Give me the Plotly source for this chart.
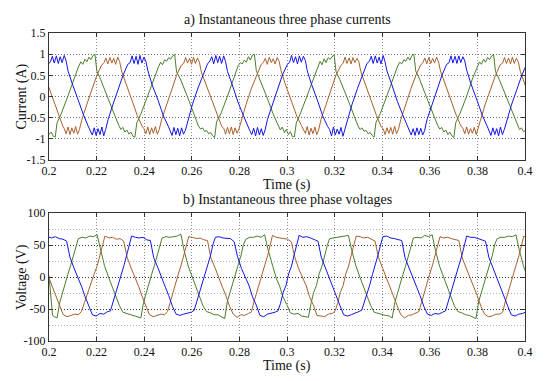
import plotly.graph_objects as go

# ---------------- currents (A) ----------------
I_BLUE_T = [
    0.1976, 0.1996,
    0.2006, 0.2014, 0.2022, 0.2031, 0.2039, 0.2047, 0.2055, 0.2064, 0.2072, 0.2080, 0.2098, 0.2124, 0.2146, 0.2166, 0.2174, 0.2182, 0.2190, 0.2198, 0.2206, 0.2214, 0.2222, 0.2230, 0.2238, 0.2248, 0.2268, 0.2291, 0.2311, 0.2331,
    0.2341, 0.2349, 0.2357, 0.2366, 0.2374, 0.2382, 0.2390, 0.2399, 0.2407, 0.2415, 0.2433, 0.2459, 0.2481, 0.2501, 0.2509, 0.2517, 0.2525, 0.2533, 0.2541, 0.2549, 0.2557, 0.2565, 0.2573, 0.2583, 0.2603, 0.2626, 0.2646, 0.2666,
    0.2676, 0.2684, 0.2692, 0.2701, 0.2709, 0.2717, 0.2725, 0.2734, 0.2742, 0.2750, 0.2768, 0.2794, 0.2816, 0.2836, 0.2844, 0.2852, 0.2860, 0.2868, 0.2876, 0.2884, 0.2892, 0.2900, 0.2908, 0.2918, 0.2938, 0.2961, 0.2981, 0.3001,
    0.3011, 0.3019, 0.3027, 0.3036, 0.3044, 0.3052, 0.3060, 0.3069, 0.3077, 0.3085, 0.3103, 0.3129, 0.3151, 0.3171, 0.3179, 0.3187, 0.3195, 0.3203, 0.3211, 0.3219, 0.3227, 0.3235, 0.3243, 0.3253, 0.3273, 0.3296, 0.3316, 0.3336,
    0.3346, 0.3354, 0.3362, 0.3371, 0.3379, 0.3387, 0.3395, 0.3404, 0.3412, 0.3420, 0.3438, 0.3464, 0.3486, 0.3506, 0.3514, 0.3522, 0.3530, 0.3538, 0.3546, 0.3554, 0.3562, 0.3570, 0.3578, 0.3588, 0.3608, 0.3631, 0.3651, 0.3671,
    0.3681, 0.3689, 0.3697, 0.3706, 0.3714, 0.3722, 0.3730, 0.3739, 0.3747, 0.3755, 0.3773, 0.3799, 0.3821, 0.3841, 0.3849, 0.3857, 0.3865, 0.3873, 0.3881, 0.3889, 0.3897, 0.3905, 0.3913, 0.3923, 0.3943, 0.3966, 0.3986, 0.4006,
]
I_BLUE = [
    0.50, 0.76,
    0.82, 0.95, 0.79, 0.96, 0.78, 0.94, 0.80, 0.97, 0.84, 0.60, 0.30, -0.12, -0.45, -0.72, -0.80, -0.91, -0.74, -0.92, -0.76, -0.90, -0.72, -0.93, -0.78, -0.55, -0.20, 0.18, 0.50, 0.76,
    0.80, 0.96, 0.78, 0.95, 0.76, 0.97, 0.79, 0.93, 0.83, 0.62, 0.28, -0.10, -0.46, -0.70, -0.79, -0.92, -0.73, -0.90, -0.75, -0.93, -0.74, -0.89, -0.80, -0.57, -0.18, 0.20, 0.48, 0.77,
    0.84, 0.94, 0.77, 0.97, 0.80, 0.95, 0.78, 0.96, 0.82, 0.59, 0.31, -0.13, -0.44, -0.73, -0.81, -0.90, -0.75, -0.93, -0.73, -0.91, -0.76, -0.92, -0.79, -0.54, -0.21, 0.17, 0.51, 0.75,
    0.81, 0.97, 0.80, 0.94, 0.77, 0.96, 0.81, 0.95, 0.85, 0.61, 0.29, -0.11, -0.47, -0.71, -0.78, -0.93, -0.72, -0.91, -0.77, -0.89, -0.73, -0.94, -0.77, -0.56, -0.19, 0.19, 0.49, 0.78,
    0.83, 0.95, 0.78, 0.96, 0.79, 0.93, 0.77, 0.97, 0.82, 0.60, 0.32, -0.12, -0.43, -0.72, -0.80, -0.91, -0.76, -0.92, -0.74, -0.90, -0.75, -0.91, -0.81, -0.55, -0.22, 0.18, 0.50, 0.76,
    0.80, 0.96, 0.79, 0.95, 0.78, 0.96, 0.80, 0.94, 0.84, 0.62, 0.30, -0.10, -0.45, -0.70, -0.79, -0.92, -0.74, -0.90, -0.76, -0.93, -0.72, -0.90, -0.78, -0.57, -0.20, 0.17, 0.49, 0.75,
]

I_BROWN_T = [
    0.1994, 0.2020, 0.2040, 0.2058, 0.2064, 0.2072, 0.2080, 0.2088, 0.2096, 0.2104, 0.2112, 0.2120, 0.2128, 0.2138, 0.2158, 0.2181, 0.2201, 0.2221,
    0.2231, 0.2239, 0.2247, 0.2256, 0.2264, 0.2272, 0.2280, 0.2289, 0.2297, 0.2305, 0.2323, 0.2349, 0.2371, 0.2391, 0.2399, 0.2407, 0.2415, 0.2423, 0.2431, 0.2439, 0.2447, 0.2455, 0.2463, 0.2473, 0.2493, 0.2516, 0.2536, 0.2556,
    0.2566, 0.2574, 0.2582, 0.2591, 0.2599, 0.2607, 0.2615, 0.2624, 0.2632, 0.2640, 0.2658, 0.2684, 0.2706, 0.2726, 0.2734, 0.2742, 0.2750, 0.2758, 0.2766, 0.2774, 0.2782, 0.2790, 0.2798, 0.2808, 0.2828, 0.2851, 0.2871, 0.2891,
    0.2901, 0.2909, 0.2917, 0.2926, 0.2934, 0.2942, 0.2950, 0.2959, 0.2967, 0.2975, 0.2993, 0.3019, 0.3041, 0.3061, 0.3069, 0.3077, 0.3085, 0.3093, 0.3101, 0.3109, 0.3117, 0.3125, 0.3133, 0.3143, 0.3163, 0.3186, 0.3206, 0.3226,
    0.3236, 0.3244, 0.3252, 0.3261, 0.3269, 0.3277, 0.3285, 0.3294, 0.3302, 0.3310, 0.3328, 0.3354, 0.3376, 0.3396, 0.3404, 0.3412, 0.3420, 0.3428, 0.3436, 0.3444, 0.3452, 0.3460, 0.3468, 0.3478, 0.3498, 0.3521, 0.3541, 0.3561,
    0.3571, 0.3579, 0.3587, 0.3596, 0.3604, 0.3612, 0.3620, 0.3629, 0.3637, 0.3645, 0.3663, 0.3689, 0.3711, 0.3731, 0.3739, 0.3747, 0.3755, 0.3763, 0.3771, 0.3779, 0.3787, 0.3795, 0.3803, 0.3813, 0.3833, 0.3856, 0.3876, 0.3896,
    0.3906, 0.3914, 0.3922, 0.3931, 0.3939, 0.3947, 0.3955, 0.3964, 0.3972, 0.3980, 0.3998, 0.4024,
]
I_BROWN = [
    0.30, -0.12, -0.45, -0.70, -0.76, -0.88, -0.72, -0.90, -0.74, -0.87, -0.71, -0.89, -0.78, -0.55, -0.20, 0.18, 0.50, 0.74,
    0.80, 0.91, 0.77, 0.92, 0.79, 0.90, 0.76, 0.93, 0.82, 0.60, 0.30, -0.12, -0.45, -0.70, -0.76, -0.88, -0.72, -0.90, -0.74, -0.87, -0.71, -0.89, -0.78, -0.55, -0.20, 0.18, 0.50, 0.74,
    0.78, 0.92, 0.79, 0.90, 0.76, 0.93, 0.78, 0.91, 0.81, 0.58, 0.31, -0.10, -0.44, -0.71, -0.75, -0.89, -0.73, -0.88, -0.72, -0.90, -0.74, -0.87, -0.77, -0.56, -0.19, 0.20, 0.48, 0.75,
    0.81, 0.90, 0.76, 0.93, 0.80, 0.89, 0.77, 0.92, 0.83, 0.61, 0.29, -0.13, -0.46, -0.69, -0.77, -0.87, -0.71, -0.91, -0.75, -0.88, -0.72, -0.90, -0.79, -0.54, -0.21, 0.17, 0.51, 0.73,
    0.79, 0.93, 0.78, 0.91, 0.77, 0.92, 0.80, 0.90, 0.82, 0.59, 0.30, -0.11, -0.45, -0.72, -0.76, -0.90, -0.74, -0.87, -0.73, -0.89, -0.70, -0.88, -0.78, -0.55, -0.20, 0.19, 0.49, 0.74,
    0.80, 0.91, 0.77, 0.92, 0.78, 0.90, 0.79, 0.93, 0.81, 0.60, 0.32, -0.12, -0.44, -0.70, -0.75, -0.88, -0.72, -0.89, -0.76, -0.87, -0.73, -0.90, -0.77, -0.56, -0.18, 0.18, 0.50, 0.75,
    0.79, 0.92, 0.78, 0.91, 0.77, 0.93, 0.78, 0.90, 0.82, 0.60, 0.31, -0.11,
]

I_GREEN_T = [
    0.1984, 0.1992, 0.2001, 0.2009, 0.2018, 0.2026, 0.2034, 0.2052, 0.2080, 0.2105,
    0.2125, 0.2134, 0.2142, 0.2151, 0.2159, 0.2168, 0.2176, 0.2185, 0.2193, 0.2201, 0.2217, 0.2245, 0.2273, 0.2293, 0.2302, 0.2310, 0.2319, 0.2327, 0.2336, 0.2344, 0.2353, 0.2361, 0.2369, 0.2387, 0.2415, 0.2440,
    0.2460, 0.2469, 0.2477, 0.2486, 0.2494, 0.2503, 0.2511, 0.2520, 0.2528, 0.2536, 0.2552, 0.2580, 0.2608, 0.2628, 0.2637, 0.2645, 0.2654, 0.2662, 0.2671, 0.2679, 0.2688, 0.2696, 0.2704, 0.2722, 0.2750, 0.2775,
    0.2795, 0.2804, 0.2812, 0.2821, 0.2829, 0.2838, 0.2846, 0.2855, 0.2863, 0.2871, 0.2887, 0.2915, 0.2943, 0.2963, 0.2972, 0.2980, 0.2989, 0.2997, 0.3006, 0.3014, 0.3023, 0.3031, 0.3039, 0.3057, 0.3085, 0.3110,
    0.3130, 0.3139, 0.3147, 0.3156, 0.3164, 0.3173, 0.3181, 0.3190, 0.3198, 0.3206, 0.3222, 0.3250, 0.3278, 0.3298, 0.3307, 0.3315, 0.3324, 0.3332, 0.3341, 0.3349, 0.3358, 0.3366, 0.3374, 0.3392, 0.3420, 0.3445,
    0.3465, 0.3474, 0.3482, 0.3491, 0.3499, 0.3508, 0.3516, 0.3525, 0.3533, 0.3541, 0.3557, 0.3585, 0.3613, 0.3633, 0.3642, 0.3650, 0.3659, 0.3667, 0.3676, 0.3684, 0.3693, 0.3701, 0.3709, 0.3727, 0.3755, 0.3780,
    0.3800, 0.3809, 0.3817, 0.3826, 0.3834, 0.3843, 0.3851, 0.3860, 0.3868, 0.3876, 0.3892, 0.3920, 0.3948, 0.3968, 0.3977, 0.3985, 0.3994, 0.4002, 0.4011,
]
I_GREEN = [
    -0.84, -0.79, -0.89, -0.84, -0.94, -0.96, -0.62, -0.40, 0.02, 0.42,
    0.72, 0.82, 0.76, 0.88, 0.82, 0.93, 0.87, 0.97, 1.00, 0.60, 0.40, 0.00, -0.42, -0.68, -0.78, -0.73, -0.84, -0.79, -0.89, -0.84, -0.94, -0.96, -0.62, -0.40, 0.02, 0.42,
    0.70, 0.81, 0.75, 0.87, 0.83, 0.92, 0.88, 0.96, 0.99, 0.58, 0.41, 0.02, -0.40, -0.70, -0.77, -0.74, -0.83, -0.80, -0.88, -0.85, -0.93, -0.97, -0.60, -0.41, 0.01, 0.43,
    0.73, 0.80, 0.77, 0.86, 0.81, 0.94, 0.86, 0.98, 1.00, 0.61, 0.39, -0.01, -0.43, -0.67, -0.79, -0.72, -0.85, -0.78, -0.90, -0.83, -0.95, -0.95, -0.63, -0.39, 0.03, 0.41,
    0.71, 0.83, 0.75, 0.89, 0.80, 0.92, 0.88, 0.95, 0.99, 0.59, 0.40, 0.01, -0.41, -0.69, -0.78, -0.74, -0.82, -0.80, -0.88, -0.85, -0.92, -0.96, -0.61, -0.40, 0.02, 0.42,
    0.72, 0.81, 0.77, 0.87, 0.83, 0.93, 0.86, 0.97, 1.00, 0.60, 0.41, 0.00, -0.42, -0.68, -0.77, -0.73, -0.84, -0.79, -0.90, -0.84, -0.93, -0.97, -0.62, -0.40, 0.01, 0.43,
    0.70, 0.82, 0.76, 0.88, 0.81, 0.92, 0.87, 0.96, 0.99, 0.59, 0.40, 0.01, -0.41, -0.69, -0.78, -0.74, -0.83, -0.80, -0.89,
]

# ---------------- voltages (V) ----------------
V_BLUE_T = [
    0.1985,
    0.1995, 0.2011, 0.2027, 0.2043, 0.2059, 0.2074, 0.2088, 0.2105, 0.2123, 0.2137, 0.2151, 0.2167, 0.2182, 0.2198, 0.2214, 0.2230, 0.2246, 0.2258, 0.2269, 0.2280, 0.2292, 0.2303, 0.2315, 0.2327, 0.2337,
    0.2347, 0.2363, 0.2379, 0.2395, 0.2411, 0.2426, 0.2440, 0.2457, 0.2475, 0.2489, 0.2503, 0.2519, 0.2534, 0.2550, 0.2566, 0.2582, 0.2598, 0.2610, 0.2621, 0.2632, 0.2644, 0.2655, 0.2667, 0.2679, 0.2689,
    0.2699, 0.2715, 0.2731, 0.2747, 0.2763, 0.2778, 0.2792, 0.2809, 0.2827, 0.2841, 0.2855, 0.2871, 0.2886, 0.2902, 0.2918, 0.2934, 0.2950, 0.2962, 0.2973, 0.2984, 0.2996, 0.3007, 0.3019, 0.3031, 0.3041,
    0.3051, 0.3067, 0.3083, 0.3099, 0.3115, 0.3130, 0.3144, 0.3161, 0.3179, 0.3193, 0.3207, 0.3223, 0.3238, 0.3254, 0.3270, 0.3286, 0.3302, 0.3314, 0.3325, 0.3336, 0.3348, 0.3359, 0.3371, 0.3383, 0.3393,
    0.3403, 0.3419, 0.3435, 0.3451, 0.3467, 0.3482, 0.3496, 0.3513, 0.3531, 0.3545, 0.3559, 0.3575, 0.3590, 0.3606, 0.3622, 0.3638, 0.3654, 0.3666, 0.3677, 0.3688, 0.3700, 0.3711, 0.3723, 0.3735, 0.3745,
    0.3755, 0.3771, 0.3787, 0.3803, 0.3819, 0.3834, 0.3848, 0.3865, 0.3883, 0.3897, 0.3911, 0.3927, 0.3942, 0.3958, 0.3974, 0.3990, 0.4006,
]
V_BLUE = [
    50,
    63, 61, 63, 60, 59, 56, 31, 14, -2, -15, -30, -45, -59, -61, -57, -58, -54, -53, -40, -25, -12, 4, 18, 35, 50,
    64, 62, 61, 62, 58, 57, 30, 15, -1, -16, -29, -46, -58, -60, -58, -56, -55, -52, -39, -26, -11, 3, 19, 34, 51,
    62, 63, 61, 60, 60, 55, 32, 13, -3, -14, -31, -44, -60, -62, -58, -57, -55, -53, -41, -24, -13, 5, 17, 36, 49,
    65, 62, 63, 61, 58, 56, 31, 14, -2, -15, -30, -45, -59, -61, -59, -57, -54, -52, -40, -25, -12, 4, 18, 35, 50,
    63, 64, 61, 60, 59, 57, 30, 15, -1, -16, -29, -46, -58, -60, -57, -58, -55, -53, -39, -26, -11, 3, 19, 34, 51,
    64, 62, 62, 60, 58, 56, 31, 14, -2, -15, -30, -45, -59, -61, -58, -57, -54,
]

V_BROWN_T = [
    0.1966, 0.1983, 0.2001, 0.2015, 0.2029, 0.2045, 0.2060, 0.2076, 0.2092, 0.2108, 0.2124, 0.2136, 0.2149, 0.2162, 0.2176, 0.2189, 0.2203, 0.2215, 0.2225,
    0.2235, 0.2251, 0.2267, 0.2283, 0.2299, 0.2314, 0.2328, 0.2345, 0.2363, 0.2377, 0.2391, 0.2407, 0.2422, 0.2438, 0.2454, 0.2470, 0.2486, 0.2498, 0.2509, 0.2520, 0.2532, 0.2543, 0.2555, 0.2567, 0.2577,
    0.2587, 0.2603, 0.2619, 0.2635, 0.2651, 0.2666, 0.2680, 0.2697, 0.2715, 0.2729, 0.2743, 0.2759, 0.2774, 0.2790, 0.2806, 0.2822, 0.2838, 0.2850, 0.2861, 0.2872, 0.2884, 0.2895, 0.2907, 0.2919, 0.2929,
    0.2939, 0.2955, 0.2971, 0.2987, 0.3003, 0.3018, 0.3032, 0.3049, 0.3067, 0.3081, 0.3095, 0.3111, 0.3126, 0.3142, 0.3158, 0.3174, 0.3190, 0.3202, 0.3213, 0.3224, 0.3236, 0.3247, 0.3259, 0.3271, 0.3281,
    0.3291, 0.3307, 0.3323, 0.3339, 0.3355, 0.3370, 0.3384, 0.3401, 0.3419, 0.3433, 0.3447, 0.3463, 0.3478, 0.3494, 0.3510, 0.3526, 0.3542, 0.3554, 0.3565, 0.3576, 0.3588, 0.3599, 0.3611, 0.3623, 0.3633,
    0.3643, 0.3659, 0.3675, 0.3691, 0.3707, 0.3722, 0.3736, 0.3753, 0.3771, 0.3785, 0.3799, 0.3815, 0.3830, 0.3846, 0.3862, 0.3878, 0.3894, 0.3906, 0.3917, 0.3928, 0.3940, 0.3951, 0.3963, 0.3975, 0.3985,
    0.3995, 0.4011,
]
V_BROWN = [
    31, 14, -2, -15, -30, -45, -59, -62, -60, -58, -59, -54, -40, -25, -12, 4, 18, 35, 50,
    64, 61, 62, 59, 60, 56, 31, 14, -2, -15, -30, -45, -59, -62, -60, -58, -59, -54, -40, -25, -12, 4, 18, 35, 50,
    63, 62, 60, 61, 58, 57, 30, 15, -1, -16, -29, -46, -58, -63, -59, -60, -57, -55, -39, -26, -11, 3, 19, 34, 51,
    65, 62, 61, 60, 59, 55, 32, 13, -3, -14, -31, -44, -60, -61, -62, -58, -57, -53, -41, -24, -13, 5, 17, 36, 49,
    64, 63, 61, 62, 59, 56, 31, 14, -2, -15, -30, -45, -59, -64, -60, -59, -56, -54, -40, -25, -12, 4, 18, 35, 50,
    63, 61, 62, 60, 58, 57, 30, 15, -1, -16, -29, -46, -58, -62, -61, -58, -58, -55, -39, -26, -11, 3, 19, 34, 51,
    64, 61,
]

V_GREEN_T = [
    0.2000, 0.2008, 0.2015, 0.2022, 0.2034, 0.2045, 0.2056, 0.2068, 0.2079, 0.2091, 0.2103, 0.2113,
    0.2123, 0.2139, 0.2155, 0.2171, 0.2187, 0.2202, 0.2216, 0.2233, 0.2251, 0.2265, 0.2279, 0.2295, 0.2310, 0.2326, 0.2342, 0.2358, 0.2374, 0.2386, 0.2397, 0.2408, 0.2420, 0.2431, 0.2443, 0.2455, 0.2465,
    0.2475, 0.2491, 0.2507, 0.2523, 0.2539, 0.2554, 0.2568, 0.2585, 0.2603, 0.2617, 0.2631, 0.2647, 0.2662, 0.2678, 0.2694, 0.2710, 0.2726, 0.2738, 0.2749, 0.2760, 0.2772, 0.2783, 0.2795, 0.2807, 0.2817,
    0.2827, 0.2843, 0.2859, 0.2875, 0.2891, 0.2906, 0.2920, 0.2937, 0.2955, 0.2969, 0.2983, 0.2999, 0.3014, 0.3030, 0.3046, 0.3062, 0.3078, 0.3090, 0.3101, 0.3112, 0.3124, 0.3135, 0.3147, 0.3159, 0.3169,
    0.3179, 0.3195, 0.3211, 0.3227, 0.3243, 0.3258, 0.3272, 0.3289, 0.3307, 0.3321, 0.3335, 0.3351, 0.3366, 0.3382, 0.3398, 0.3414, 0.3430, 0.3442, 0.3453, 0.3464, 0.3476, 0.3487, 0.3499, 0.3511, 0.3521,
    0.3531, 0.3547, 0.3563, 0.3579, 0.3595, 0.3610, 0.3624, 0.3641, 0.3659, 0.3673, 0.3687, 0.3703, 0.3718, 0.3734, 0.3750, 0.3766, 0.3782, 0.3794, 0.3805, 0.3816, 0.3828, 0.3839, 0.3851, 0.3863, 0.3873,
    0.3883, 0.3899, 0.3915, 0.3931, 0.3947, 0.3962, 0.3976, 0.3993, 0.4011,
]
V_GREEN = [
    2, -30, -60, -62, -64, -40, -25, -12, 4, 18, 35, 50,
    60, 62, 61, 64, 63, 66, 42, 18, -1, -15, -30, -44, -55, -57, -58, -60, -62, -64, -40, -25, -12, 4, 18, 35, 50,
    61, 63, 62, 63, 64, 67, 41, 17, 0, -16, -29, -45, -54, -56, -59, -59, -63, -65, -39, -26, -11, 3, 19, 34, 51,
    59, 62, 62, 64, 62, 66, 43, 19, -2, -14, -31, -43, -56, -58, -57, -61, -62, -63, -41, -24, -13, 5, 17, 36, 49,
    60, 61, 63, 63, 64, 65, 42, 18, -1, -15, -30, -44, -55, -57, -58, -60, -61, -64, -40, -25, -12, 4, 18, 35, 50,
    61, 62, 61, 65, 63, 66, 41, 17, 0, -16, -29, -45, -54, -56, -59, -60, -63, -65, -39, -26, -11, 3, 19, 34, 51,
    60, 62, 62, 64, 63, 66, 42, 18, -1,
]

X_TICKS = [0.2, 0.22, 0.24, 0.26, 0.28, 0.3, 0.32, 0.34, 0.36, 0.38, 0.4]
X_TICK_TEXT = ["0.2", "0.22", "0.24", "0.26", "0.28", "0.3", "0.32", "0.34", "0.36", "0.38", "0.4"]
I_TICKS = [-1.5, -1, -0.5, 0, 0.5, 1, 1.5]
I_TICK_TEXT = ["-1.5", "-1", "-0.5", "0", "0.5", "1", "1.5"]
V_TICKS = [-100, -50, 0, 50, 100]
V_TICK_TEXT = ["-100", "-50", "0", "50", "100"]

BLUE = "#1414e6"
GREEN = "#4c7d2c"
BROWN = "#a8602c"

series = [
    (I_GREEN_T, I_GREEN, GREEN, "x", "y"),
    (I_BROWN_T, I_BROWN, BROWN, "x", "y"),
    (I_BLUE_T, I_BLUE, BLUE, "x", "y"),
    (V_GREEN_T, V_GREEN, GREEN, "x2", "y2"),
    (V_BROWN_T, V_BROWN, BROWN, "x2", "y2"),
    (V_BLUE_T, V_BLUE, BLUE, "x2", "y2"),
]

fig = go.Figure()
for t, v, c, xa, ya in series:
    assert len(t) == len(v), (len(t), len(v), c, xa)
    fig.add_trace(go.Scatter(x=t, y=v, mode="lines", line=dict(color=c, width=1),
                             xaxis=xa, yaxis=ya, showlegend=False, hoverinfo="skip"))

FONT = "Liberation Serif, Times New Roman, serif"
W, H = 550, 381
X0, X1 = 49, 525
DOT = "1px,2px"


def px(x):
    return x / W


def py(y):
    return 1 - y / H


common_x = dict(range=[0.2, 0.4], tickvals=X_TICKS, ticktext=X_TICK_TEXT, automargin=False,
                showline=True, mirror="ticks", linecolor="#333333", linewidth=1,
                ticks="inside", ticklen=4, tickcolor="#333333",
                showgrid=True, gridcolor="#8c8c8c", griddash=DOT, gridwidth=1,
                zeroline=False, tickfont=dict(family=FONT, size=12, color="#111111"))
common_y = dict(showline=True, mirror="ticks", linecolor="#333333", linewidth=1, automargin=False,
                ticks="inside", ticklen=4, tickcolor="#333333",
                showgrid=True, gridcolor="#6e6e6e", griddash=DOT, gridwidth=1,
                zeroline=False, tickfont=dict(family=FONT, size=12, color="#111111"))

fig.update_layout(
    width=W, height=H,
    margin=dict(l=0, r=0, t=0, b=0),
    paper_bgcolor="white", plot_bgcolor="white",
    xaxis=dict(domain=[px(X0), px(X1)], anchor="y", **common_x),
    yaxis=dict(domain=[py(160), py(33)], anchor="x", range=[-1.5, 1.5],
               tickvals=I_TICKS, ticktext=I_TICK_TEXT, **common_y),
    xaxis2=dict(domain=[px(X0), px(X1)], anchor="y2", **common_x),
    yaxis2=dict(domain=[py(341), py(213)], anchor="x2", range=[-100, 100],
                tickvals=V_TICKS, ticktext=V_TICK_TEXT,
                minor=dict(tickvals=[-75, -25, 25, 75], showgrid=True,
                           gridcolor="#b4b4b4", griddash=DOT, ticks=""),
                **{**common_y, "gridcolor": "#333333"}),
    font=dict(family=FONT, color="#111111"),
)

ann = [
    ("a) Instantaneous three phase currents", (X0 + X1) / 2, 20, 0),
    ("Time (s)", (X0 + X1) / 2, 184.5, 0),
    ("Current (A)", 22, 96.5, -90),
    ("b) Instantaneous three phase voltages", (X0 + X1) / 2, 200, 0),
    ("Time (s)", (X0 + X1) / 2, 366, 0),
    ("Voltage (V)", 22, 277, -90),
]
for text, x, y, ang in ann:
    fig.add_annotation(text=text, x=px(x), y=py(y), xref="paper", yref="paper",
                       xanchor="center", yanchor="middle", showarrow=False,
                       textangle=ang, font=dict(family=FONT, size=14, color="#111111"))

fig.write_html(
    "out.html",
    config={"displayModeBar": False, "staticPlot": True},
    post_script="document.body.style.margin='0';document.body.style.padding='0';"
                "document.body.style.overflow='hidden';",
)
